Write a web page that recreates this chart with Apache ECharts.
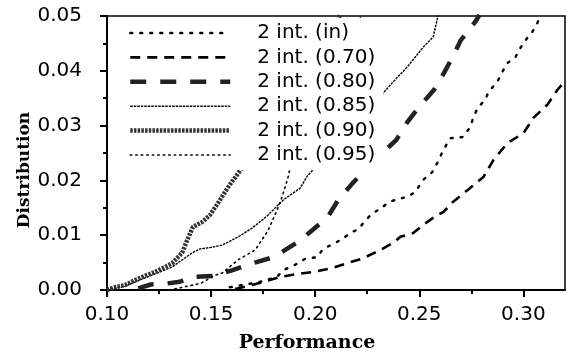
<!DOCTYPE html>
<html>
<head>
<meta charset="utf-8">
<script src="https://cdn.jsdelivr.net/npm/echarts@6/dist/echarts.min.js"></script>
<style>html,body{margin:0;padding:0;background:#fff}#c{width:577px;height:357px}</style>
</head>
<body>
<div id="c"></div>
<script>
// ---- data (Performance, Distribution) ----
const seriesNames = ['2 int. (in)', '2 int. (0.70)', '2 int. (0.80)', '2 int. (0.85)', '2 int. (0.90)', '2 int. (0.95)'];
const xTicks = [0.10, 0.15, 0.20, 0.25, 0.30];
const xMinorTicks = [0.125, 0.175, 0.225, 0.275];
const yTicks = [0.00, 0.01, 0.02, 0.03, 0.04, 0.05];

const dataIn = [
  [0.159,0.0005],[0.1736,0.0015],[0.1817,0.0024],[0.1846,0.0036],[0.1904,0.0046],[0.1952,0.0057],
  [0.201,0.006],[0.2038,0.0075],[0.2087,0.0084],[0.213,0.0093],[0.2168,0.0104],[0.2207,0.0111],
  [0.224,0.0126],[0.2274,0.014],[0.2312,0.0148],[0.2356,0.0161],[0.2399,0.0166],[0.2442,0.017],
  [0.2481,0.0179],[0.2519,0.0201],[0.2562,0.0215],[0.2587,0.0232],[0.2615,0.0255],[0.2649,0.0277],
  [0.2707,0.0279],[0.2745,0.0297],[0.276,0.0316],[0.2784,0.0334],[0.2817,0.0347],[0.2832,0.0361],
  [0.2875,0.038],[0.2899,0.0398],[0.2923,0.0414],[0.2962,0.0425],[0.2986,0.0442],[0.3019,0.046],
  [0.3043,0.0471],[0.3067,0.0487],[0.3082,0.0502]
];
const data070 = [
  [0.1615,0.0002],[0.1697,0.0009],[0.176,0.0016],[0.1832,0.0024],[0.1913,0.0029],[0.199,0.0033],
  [0.2082,0.004],[0.2154,0.0049],[0.2231,0.0058],[0.2313,0.0073],[0.2375,0.0086],[0.2409,0.0097],
  [0.2471,0.0104],[0.2519,0.0119],[0.2587,0.0137],[0.2615,0.0142],[0.2663,0.0161],[0.2731,0.0182],
  [0.2808,0.0206],[0.2856,0.0237],[0.2923,0.0268],[0.3,0.0286],[0.3048,0.0314],[0.3115,0.0338],
  [0.3163,0.0365],[0.3197,0.038]
];
const data080 = [
  [0.115,0.0003],[0.121,0.001],[0.129,0.0012],[0.135,0.0015],[0.141,0.0024],[0.152,0.0026],
  [0.16,0.0036],[0.171,0.005],[0.18,0.006],[0.191,0.0086],[0.1976,0.0106],[0.206,0.0133],
  [0.211,0.0164],[0.218,0.0195],[0.228,0.0235],[0.239,0.0274],[0.244,0.0305],[0.249,0.033],
  [0.257,0.0365],[0.26,0.0383],[0.266,0.0425],[0.27,0.0456],[0.277,0.049],[0.279,0.0502]
];
const data085 = [
  [0.10,0.0],[0.1087,0.0007],[0.1183,0.0022],[0.1255,0.0033],[0.1313,0.0042],[0.1361,0.0055],
  [0.141,0.0068],[0.1447,0.0075],[0.1505,0.0078],[0.1553,0.0082],[0.1591,0.0089],[0.1639,0.0099],
  [0.1697,0.0113],[0.1769,0.0135],[0.1846,0.0164],[0.1928,0.0186],[0.1962,0.0208],[0.2168,0.0292],
  [0.2375,0.038],[0.2442,0.0407],[0.2519,0.0443],[0.2567,0.0462],[0.2591,0.0502]
];
const data090 = [
  [0.10,0.0],[0.1038,0.0005],[0.1087,0.0009],[0.1135,0.0018],[0.1183,0.0026],[0.1231,0.0033],
  [0.1279,0.0042],[0.1313,0.0049],[0.1361,0.0068],[0.1385,0.0091],[0.1413,0.0115],[0.1457,0.0124],
  [0.1495,0.0137],[0.1534,0.0159],[0.1582,0.0188],[0.163,0.0213],[0.188,0.0347],[0.212,0.0502]
];
const data095 = [
  [0.13,0.0],[0.145,0.0012],[0.1519,0.0027],[0.1553,0.0031],[0.163,0.0055],[0.1712,0.0073],
  [0.1774,0.0109],[0.1817,0.0146],[0.1841,0.017],[0.187,0.0206],[0.193,0.031],[0.2226,0.0502]
];

const seriesData = [dataIn, data070, data080, data085, data090, data095];
const lineStyles = [
  {width: 2.4, type: [2, 8], cap: 'round'},
  {width: 2.6, type: [10, 7]},
  {width: 4.5, type: [16, 14], color: '#222'},
  {width: 1.4, type: [2.5, 1]},
  {width: 4.5, type: [2.5, 1.2], color: '#333'},
  {width: 1.6, type: [1.5, 4], cap: 'round'}
];

const chart = echarts.init(document.getElementById('c'), null, {renderer: 'canvas'});
const fmt = v => v.toFixed(2);
chart.setOption({
  animation: false,
  backgroundColor: '#fff',
  grid: {left: 107, right: 12, top: 16, bottom: 67, show: true, borderColor: '#000', borderWidth: 1.5, backgroundColor: 'transparent'},
  legend: {
    data: seriesNames.map((n, i) => ({name: n, lineStyle: Object.assign({color: '#000'}, lineStyles[i])})),
    left: 120, top: 18, orient: 'vertical',
    itemWidth: 100, itemHeight: 14, itemGap: 4.4,
    padding: [5, 8, 5, 8],
    backgroundColor: '#fff',
    itemStyle: {opacity: 0},
    textStyle: {fontFamily: 'DejaVu Sans', fontSize: 20, lineHeight: 20, color: '#000', padding: [0, 0, 0, 22]}
  },
  xAxis: [{
    type: 'value', min: 0.10, max: 0.32, interval: 0.05,
    axisLine: {show: true, onZero: false, lineStyle: {color: '#000', width: 2}},
    axisTick: {show: true, length: 7, customValues: xTicks, lineStyle: {color: '#000', width: 2}},
    axisLabel: {customValues: xTicks, formatter: fmt, margin: 15, fontFamily: 'DejaVu Sans', fontSize: 20, color: '#000'},
    splitLine: {show: false}
  }, {
    type: 'value', min: 0.10, max: 0.32, position: 'bottom',
    axisLine: {show: false},
    axisTick: {show: true, length: 4, customValues: xMinorTicks, lineStyle: {color: '#000', width: 2}},
    axisLabel: {show: false},
    splitLine: {show: false}
  }],
  yAxis: {
    type: 'value', min: 0, max: 0.05, interval: 0.01,
    axisLine: {show: true, lineStyle: {color: '#000', width: 2}},
    axisTick: {show: true, length: 7, lineStyle: {color: '#000', width: 2}},
    minorTick: {show: true, splitNumber: 2, length: 4, lineStyle: {color: '#000', width: 2}},
    axisLabel: {formatter: fmt, margin: 25, fontFamily: 'DejaVu Sans', fontSize: 20, color: '#000'},
    splitLine: {show: false}
  },
  graphic: [
    {type: 'text', x: 307, y: 343, style: {text: 'Performance', font: 'bold 19px "DejaVu Serif"', fill: '#000', textAlign: 'center', textVerticalAlign: 'middle'}},
    {type: 'text', x: 25, y: 170, rotation: Math.PI / 2, style: {text: 'Distribution', font: 'bold 17px "DejaVu Serif"', fill: '#000', textAlign: 'center', textVerticalAlign: 'middle'}}
  ],
  series: seriesNames.map((n, i) => ({
    name: n, type: 'line', data: seriesData[i], xAxisIndex: 0,
    symbol: 'none', smooth: false, clip: true,
    itemStyle: {color: 'rgba(0,0,0,0)'},
    lineStyle: Object.assign({color: '#000'}, lineStyles[i])
  }))
});
</script>
</body>
</html>
